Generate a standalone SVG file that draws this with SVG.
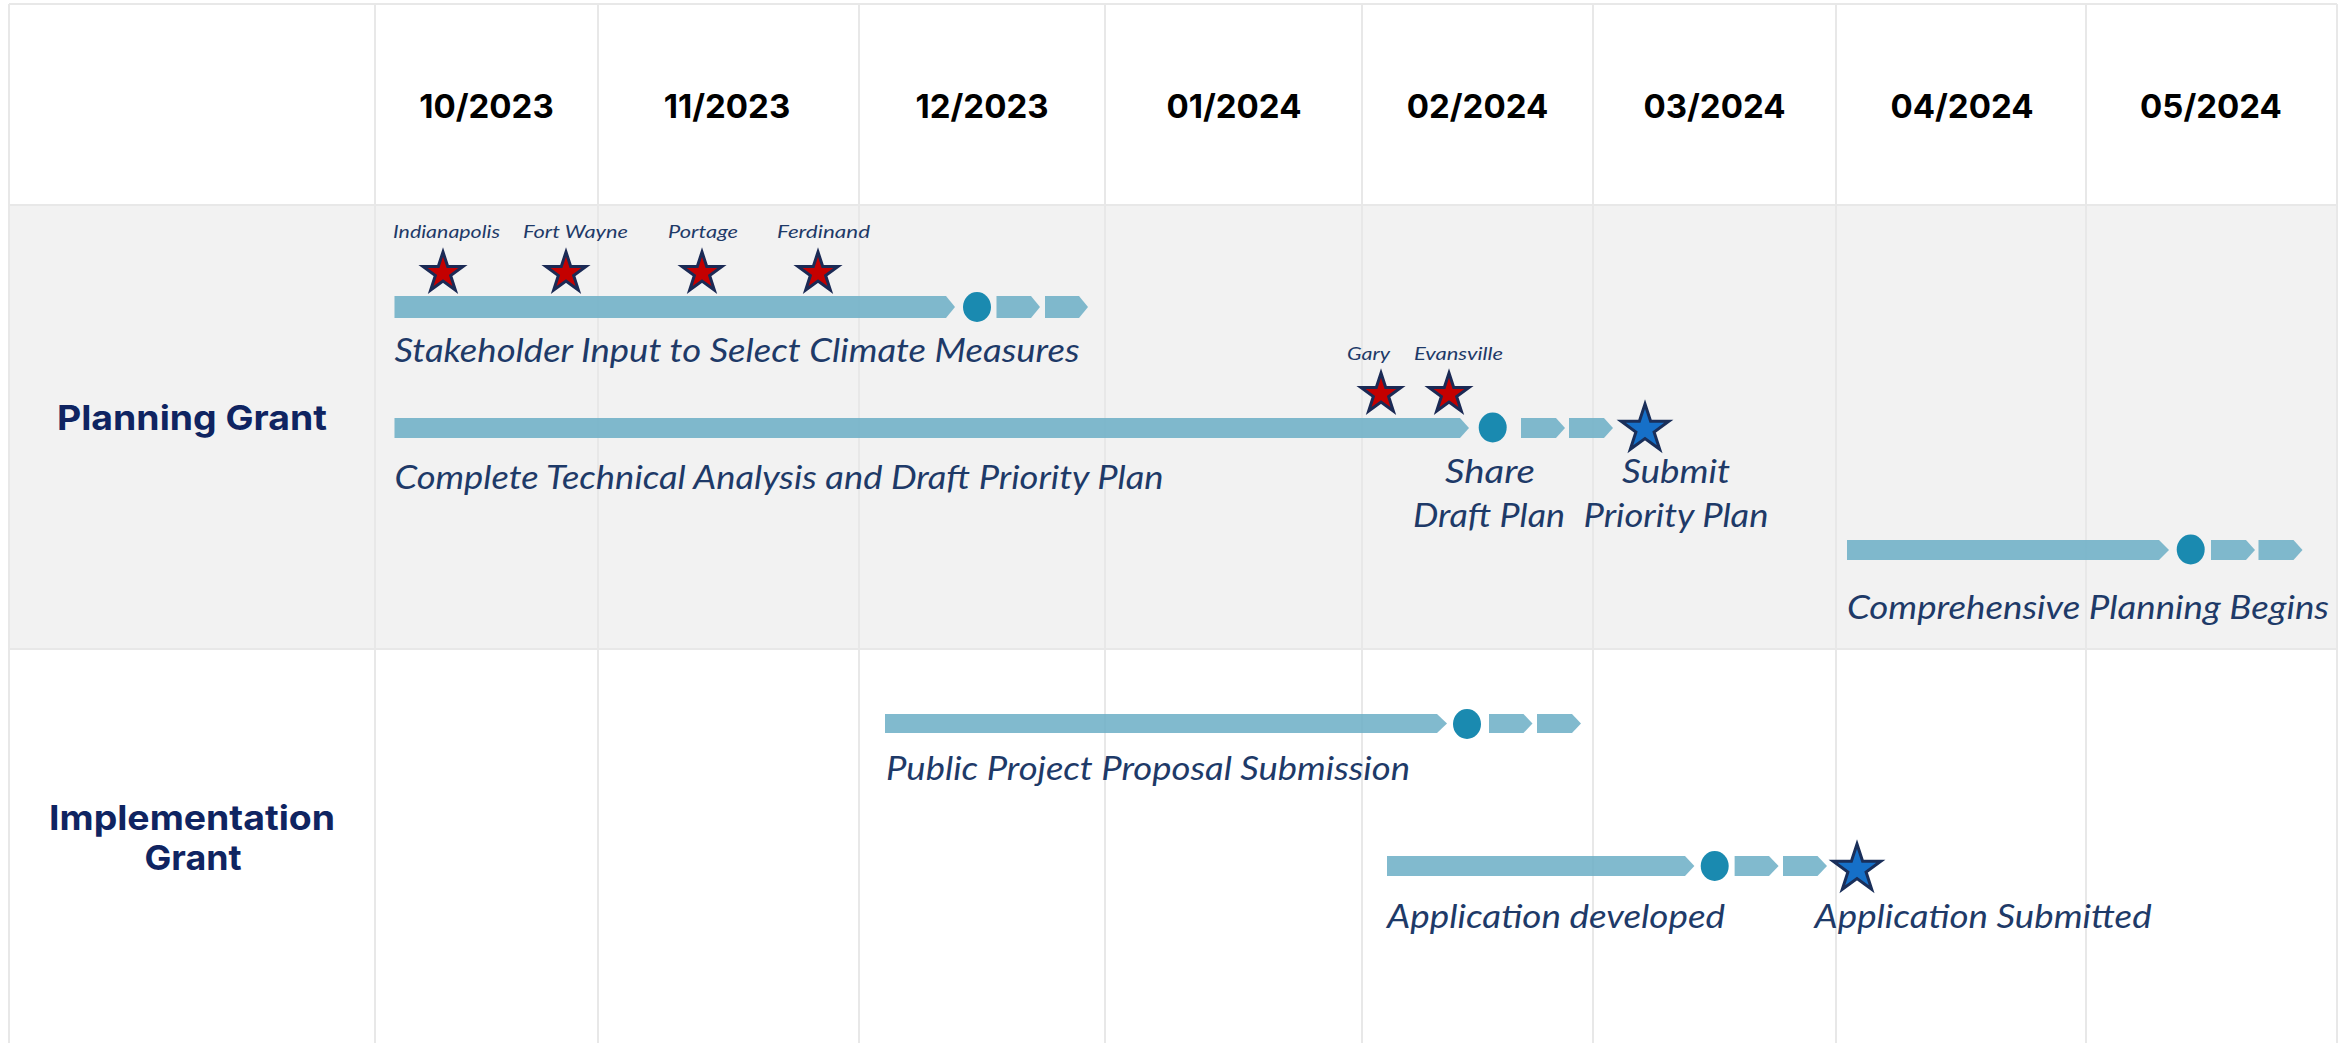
<svg xmlns="http://www.w3.org/2000/svg" width="2351" height="1043" viewBox="0 0 2351 1043">
<style>
.grid{stroke:#e8e8e8;stroke-width:2;fill:none}
.bar{fill:#6baec5;fill-opacity:0.85}
.dot{fill:#1a8ab0}
.date{font-family:Inter,"DejaVu Sans",sans-serif;font-weight:700;font-size:33px;fill:#000;text-anchor:middle}
.row{font-family:Inter,"DejaVu Sans",sans-serif;font-weight:700;font-size:34px;fill:#0f2461;text-anchor:middle}
.lbl{font-family:Lato,"Open Sans",sans-serif;font-style:italic;font-size:32px;fill:#1e3a68}
.city{font-family:Lato,"Open Sans",sans-serif;font-style:italic;font-size:18px;fill:#1e3a68}
.mid{text-anchor:middle}
.rs{fill:#c40000;stroke:#1b2a55;stroke-width:3;stroke-linejoin:miter}
.bs{fill:#1670c8;stroke:#1a2f5a;stroke-width:3;stroke-linejoin:miter}
</style>
<defs>
<path id="redStar" class="rs" d="M0,-21 L4.71,-6.49 L19.97,-6.49 L7.63,2.48 L12.34,16.99 L0,8.02 L-12.34,16.99 L-7.63,2.48 L-19.97,-6.49 L-4.71,-6.49 Z"/>
<path id="blueStar" class="bs" d="M0,-25 L5.61,-7.73 L23.78,-7.73 L9.08,2.95 L14.69,20.23 L0,9.55 L-14.69,20.23 L-9.08,2.95 L-23.78,-7.73 L-5.61,-7.73 Z"/>
</defs>

<g id="table">
<rect x="0" y="0" width="2351" height="1043" fill="#ffffff"/>
<rect x="9" y="205" width="2328" height="444" fill="#f2f2f2"/>
<line class="grid" x1="9" y1="4" x2="2337" y2="4" stroke-width="4"/>
<line class="grid" x1="9" y1="205" x2="2337" y2="205"/>
<line class="grid" x1="9" y1="649" x2="2337" y2="649"/>
<line class="grid" x1="9" y1="4" x2="9" y2="1043"/>
<line class="grid" x1="375" y1="4" x2="375" y2="1043"/>
<line class="grid" x1="598" y1="4" x2="598" y2="1043"/>
<line class="grid" x1="859" y1="4" x2="859" y2="1043"/>
<line class="grid" x1="1105" y1="4" x2="1105" y2="1043"/>
<line class="grid" x1="1362" y1="4" x2="1362" y2="1043"/>
<line class="grid" x1="1593" y1="4" x2="1593" y2="1043"/>
<line class="grid" x1="1836" y1="4" x2="1836" y2="1043"/>
<line class="grid" x1="2086" y1="4" x2="2086" y2="1043"/>
<line class="grid" x1="2337" y1="4" x2="2337" y2="1043"/>
</g>

<g id="header">
<text class="date" x="486.5" y="118">10/2023</text>
<text class="date" x="727" y="118">11/2023</text>
<text class="date" x="982" y="118">12/2023</text>
<text class="date" x="1234" y="118">01/2024</text>
<text class="date" x="1477.5" y="118">02/2024</text>
<text class="date" x="1714.5" y="118">03/2024</text>
<text class="date" x="1962" y="118">04/2024</text>
<text class="date" x="2211" y="118">05/2024</text>
</g>

<g id="planning-grant-label">
<text class="row" x="192" y="430" textLength="270" lengthAdjust="spacingAndGlyphs">Planning  Grant</text>
</g>
<g id="implementation-grant-label">
<text class="row" x="192" y="830" textLength="286" lengthAdjust="spacingAndGlyphs">Implementation</text>
<text class="row" x="193" y="870" textLength="97" lengthAdjust="spacingAndGlyphs">Grant</text>
</g>

<g id="stakeholder-input">
<path class="bar" d="M394.5,296 H946 L955,307 L946,318 H394.5 Z"/>
<ellipse class="dot" cx="977" cy="307" rx="14" ry="15"/>
<path class="bar" d="M996.5,296 H1031 L1040,307 L1031,318 H996.5 Z"/>
<path class="bar" d="M1045,296 H1079 L1088,307 L1079,318 H1045 Z"/>
<use href="#redStar" x="443" y="273"/>
<use href="#redStar" x="566" y="273"/>
<use href="#redStar" x="702" y="273"/>
<use href="#redStar" x="818" y="273"/>
<text class="city" x="393" y="238" textLength="107" lengthAdjust="spacingAndGlyphs">Indianapolis</text>
<text class="city" x="523" y="238" textLength="105" lengthAdjust="spacingAndGlyphs">Fort Wayne</text>
<text class="city" x="668" y="238" textLength="70" lengthAdjust="spacingAndGlyphs">Portage</text>
<text class="city" x="777" y="238" textLength="93" lengthAdjust="spacingAndGlyphs">Ferdinand</text>
<text class="lbl" x="394.5" y="362" textLength="685" lengthAdjust="spacingAndGlyphs">Stakeholder Input to Select Climate Measures</text>
</g>

<g id="technical-analysis">
<path class="bar" d="M394.5,418 H1460 L1469,428 L1460,438 H394.5 Z"/>
<ellipse class="dot" cx="1492.7" cy="427.5" rx="14" ry="15"/>
<path class="bar" d="M1521,418 H1556 L1565,428 L1556,438 H1521 Z"/>
<path class="bar" d="M1569,418 H1604 L1613,428 L1604,438 H1569 Z"/>
<use href="#redStar" x="1381" y="394"/>
<use href="#redStar" x="1449" y="394"/>
<text class="city" x="1347" y="360" textLength="43" lengthAdjust="spacingAndGlyphs">Gary</text>
<text class="city" x="1414" y="360" textLength="89" lengthAdjust="spacingAndGlyphs">Evansville</text>
<text class="lbl" x="394.5" y="489" textLength="769" lengthAdjust="spacingAndGlyphs">Complete Technical Analysis and Draft Priority Plan</text>
</g>

<g id="share-draft-plan">
<text class="lbl mid" x="1490" y="483" textLength="90" lengthAdjust="spacingAndGlyphs">Share</text>
<text class="lbl mid" x="1489" y="527" textLength="152" lengthAdjust="spacingAndGlyphs">Draft Plan</text>
</g>

<g id="submit-priority-plan">
<use href="#blueStar" x="1645" y="429"/>
<text class="lbl mid" x="1676" y="483" textLength="108" lengthAdjust="spacingAndGlyphs">Submit</text>
<text class="lbl mid" x="1676" y="527" textLength="185" lengthAdjust="spacingAndGlyphs">Priority Plan</text>
</g>

<g id="comprehensive-planning">
<path class="bar" d="M1847,540 H2159 L2169,550 L2159,560 H1847 Z"/>
<ellipse class="dot" cx="2190.7" cy="549.5" rx="14" ry="15"/>
<path class="bar" d="M2211,540 H2246 L2255,550 L2246,560 H2211 Z"/>
<path class="bar" d="M2258.5,540 H2293.5 L2302.5,550 L2293.5,560 H2258.5 Z"/>
<text class="lbl" x="1847" y="619" textLength="482" lengthAdjust="spacingAndGlyphs">Comprehensive Planning Begins</text>
</g>

<g id="public-project-proposal">
<path class="bar" d="M885,714 H1437 L1447,723.5 L1437,733 H885 Z"/>
<ellipse class="dot" cx="1467" cy="724" rx="14" ry="15"/>
<path class="bar" d="M1489,714 H1523.5 L1532.5,723.5 L1523.5,733 H1489 Z"/>
<path class="bar" d="M1537,714 H1572 L1581,723.5 L1572,733 H1537 Z"/>
<text class="lbl" x="886" y="780" textLength="524" lengthAdjust="spacingAndGlyphs">Public Project Proposal Submission</text>
</g>

<g id="application-developed">
<path class="bar" d="M1387,856 H1685 L1694.4,866 L1685,876 H1387 Z"/>
<ellipse class="dot" cx="1714.7" cy="866" rx="14" ry="15"/>
<path class="bar" d="M1734.6,856 H1769 L1778.6,866 L1769,876 H1734.6 Z"/>
<path class="bar" d="M1783,856 H1817.5 L1827,866 L1817.5,876 H1783 Z"/>
<text class="lbl" x="1387" y="928" textLength="338" lengthAdjust="spacingAndGlyphs">Application developed</text>
</g>

<g id="application-submitted">
<use href="#blueStar" x="1857" y="869"/>
<text class="lbl" x="1814.6" y="928" textLength="337" lengthAdjust="spacingAndGlyphs">Application Submitted</text>
</g>

<g id="connectors"></g>
</svg>
